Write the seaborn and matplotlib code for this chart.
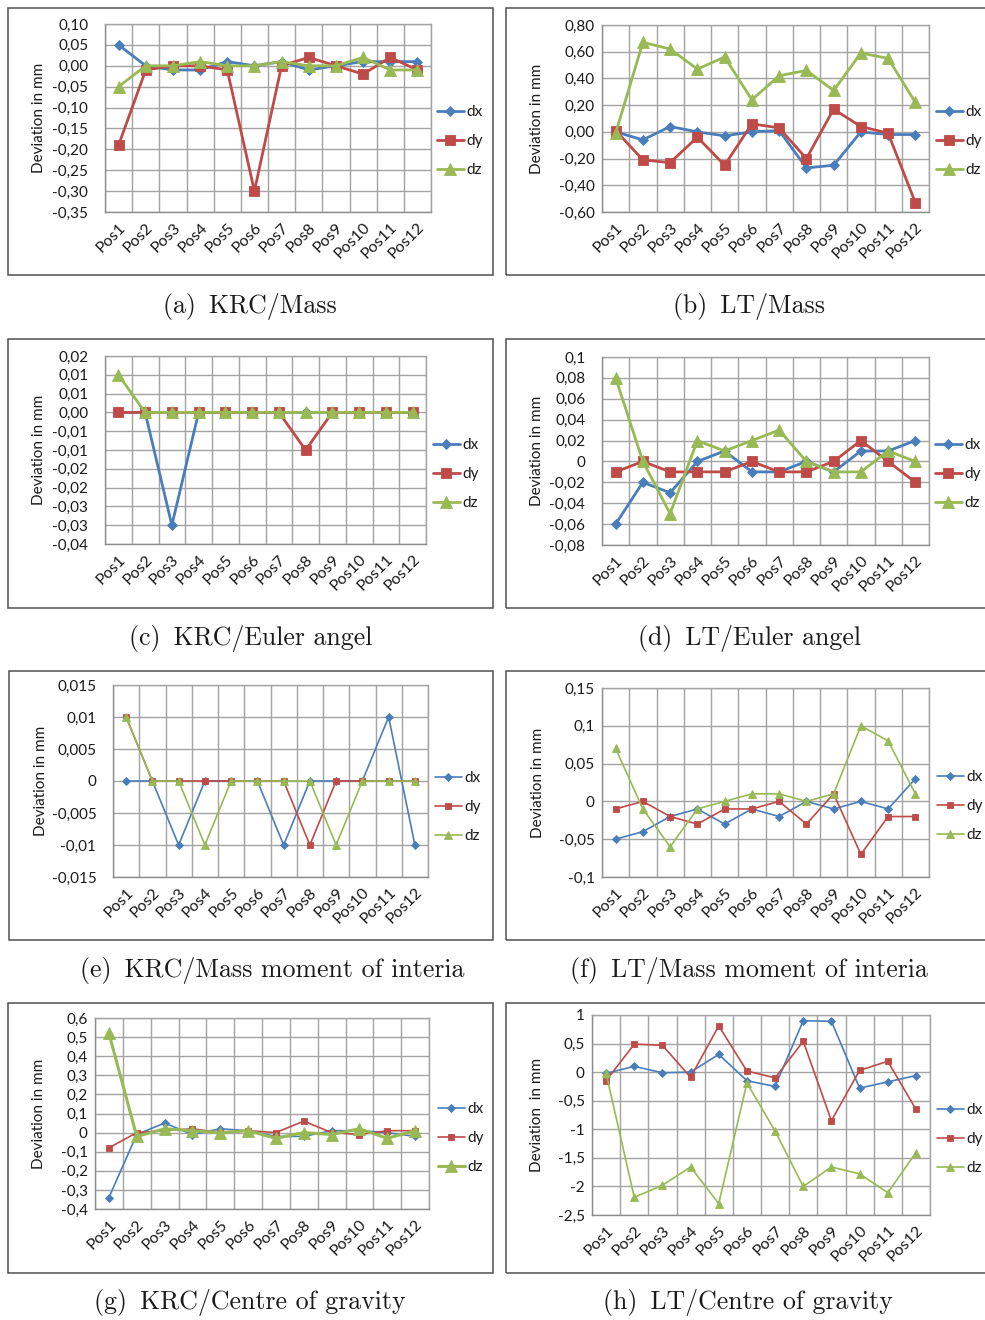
import matplotlib
matplotlib.use("Agg")
import matplotlib.pyplot as plt
import matplotlib.transforms as mtransforms
import numpy as np
import seaborn as sns
from matplotlib.patches import Rectangle
from decimal import Decimal, ROUND_HALF_UP

# ---------------------------------------------------------------- data
positions = ["Pos1", "Pos2", "Pos3", "Pos4", "Pos5", "Pos6",
             "Pos7", "Pos8", "Pos9", "Pos10", "Pos11", "Pos12"]
series_names = ["dx", "dy", "dz"]

# (a) KRC / Mass
krc_mass_dx = [0.05, 0.00, -0.01, -0.01, 0.01, 0.00, 0.01, -0.01, 0.00, 0.01, 0.01, 0.01]
krc_mass_dy = [-0.19, -0.01, 0.00, 0.00, -0.01, -0.30, 0.00, 0.02, 0.00, -0.02, 0.02, -0.01]
krc_mass_dz = [-0.05, 0.00, 0.00, 0.01, 0.00, 0.00, 0.01, 0.00, 0.00, 0.02, -0.01, -0.01]

# (b) LT / Mass
lt_mass_dx = [0.00, -0.06, 0.04, 0.00, -0.03, 0.00, 0.01, -0.27, -0.25, 0.00, -0.02, -0.02]
lt_mass_dy = [0.01, -0.21, -0.23, -0.04, -0.25, 0.06, 0.03, -0.20, 0.17, 0.04, -0.01, -0.53]
lt_mass_dz = [-0.01, 0.67, 0.62, 0.47, 0.56, 0.24, 0.42, 0.46, 0.31, 0.59, 0.55, 0.22]

# (c) KRC / Euler angel
krc_euler_dx = [0.00, 0.00, -0.03, 0.00, 0.00, 0.00, 0.00, 0.00, 0.00, 0.00, 0.00, 0.00]
krc_euler_dy = [0.00, 0.00, 0.00, 0.00, 0.00, 0.00, 0.00, -0.01, 0.00, 0.00, 0.00, 0.00]
krc_euler_dz = [0.01, 0.00, 0.00, 0.00, 0.00, 0.00, 0.00, 0.00, 0.00, 0.00, 0.00, 0.00]

# (d) LT / Euler angel
lt_euler_dx = [-0.06, -0.02, -0.03, 0.00, 0.01, -0.01, -0.01, 0.00, -0.01, 0.01, 0.01, 0.02]
lt_euler_dy = [-0.01, 0.00, -0.01, -0.01, -0.01, 0.00, -0.01, -0.01, 0.00, 0.02, 0.00, -0.02]
lt_euler_dz = [0.08, 0.00, -0.05, 0.02, 0.01, 0.02, 0.03, 0.00, -0.01, -0.01, 0.01, 0.00]

# (e) KRC / Mass moment of interia
krc_inertia_dx = [0.00, 0.00, -0.01, 0.00, 0.00, 0.00, -0.01, 0.00, 0.00, 0.00, 0.01, -0.01]
krc_inertia_dy = [0.01, 0.00, 0.00, 0.00, 0.00, 0.00, 0.00, -0.01, 0.00, 0.00, 0.00, 0.00]
krc_inertia_dz = [0.01, 0.00, 0.00, -0.01, 0.00, 0.00, 0.00, 0.00, -0.01, 0.00, 0.00, 0.00]

# (f) LT / Mass moment of interia
lt_inertia_dx = [-0.05, -0.04, -0.02, -0.01, -0.03, -0.01, -0.02, 0.00, -0.01, 0.00, -0.01, 0.03]
lt_inertia_dy = [-0.01, 0.00, -0.02, -0.03, -0.01, -0.01, 0.00, -0.03, 0.01, -0.07, -0.02, -0.02]
lt_inertia_dz = [0.07, -0.01, -0.06, -0.01, 0.00, 0.01, 0.01, 0.00, 0.01, 0.10, 0.08, 0.01]

# (g) KRC / Centre of gravity
krc_cog_dx = [-0.34, -0.01, 0.05, -0.01, 0.02, 0.01, -0.02, -0.02, 0.01, 0.01, 0.00, -0.02]
krc_cog_dy = [-0.08, 0.00, 0.01, 0.02, 0.00, 0.01, 0.00, 0.06, 0.00, -0.01, 0.01, 0.01]
krc_cog_dz = [0.52, -0.02, 0.02, 0.01, 0.00, 0.01, -0.03, 0.00, -0.01, 0.02, -0.03, 0.01]

# (h) LT / Centre of gravity
lt_cog_dx = [-0.02, 0.10, -0.01, 0.00, 0.31, -0.15, -0.25, 0.90, 0.89, -0.28, -0.17, -0.06]
lt_cog_dy = [-0.15, 0.49, 0.47, -0.09, 0.81, 0.02, -0.10, 0.54, -0.85, 0.03, 0.19, -0.65]
lt_cog_dz = [-0.02, -2.19, -1.98, -1.66, -2.30, -0.19, -1.03, -2.00, -1.66, -1.78, -2.11, -1.41]

caption_tags = ["(a)", "(b)", "(c)", "(d)", "(e)", "(f)", "(g)", "(h)"]
caption_texts = ["KRC/Mass", "LT/Mass",
                 "KRC/Euler angel", "LT/Euler angel",
                 "KRC/Mass moment of interia", "LT/Mass moment of interia",
                 "KRC/Centre of gravity", "LT/Centre of gravity"]

# value axis ranges: (min, max, major step)
y_ranges = [(-0.35, 0.10, 0.05), (-0.60, 0.80, 0.20),
            (-0.035, 0.015, 0.005), (-0.08, 0.10, 0.02),
            (-0.015, 0.015, 0.005), (-0.10, 0.15, 0.05),
            (-0.40, 0.60, 0.10), (-2.5, 1.0, 0.5)]
y_formats = ["fixed2", "fixed2", "fixed2", "general",
             "general", "general", "general", "general"]
y_labels = ["Deviation in mm"] * 7 + ["Deviation  in mm"]

# ---------------------------------------------------------------- style
BLUE, RED, GREEN = "#4A7EBB", "#BE4B48", "#98B954"
colors = {"dx": BLUE, "dy": RED, "dz": GREEN}
markers = {"dx": "D", "dy": "s", "dz": "^"}
THICK = {"dx": (2.0, 5.5), "dy": (2.0, 7.0), "dz": (2.0, 8.0)}
THIN = {"dx": (1.2, 3.8), "dy": (1.2, 4.6), "dz": (1.2, 6.0)}
MIXED = {"dx": (1.2, 3.8), "dy": (1.2, 4.6), "dz": (2.2, 8.0)}

sns.set_theme(style="white")
plt.rcParams["font.family"] = ["Lato", "DejaVu Sans"]
plt.rcParams["text.color"] = "#1a1a1a"

W, H = 985, 1320
fig = plt.figure(figsize=(W / 100, H / 100), dpi=100)


def fx(x):
    return x / W


def fy(y):
    return 1 - y / H


def fmt_value(v, kind):
    v = round(float(v), 6)
    if kind == "fixed2":
        d = Decimal(str(v)).quantize(Decimal("0.01"), rounding=ROUND_HALF_UP)
        s = f"{d:.2f}"
        if s == "-0.00":
            s = "0.00"
    else:
        if abs(v) < 1e-9:
            return "0"
        s = f"{v:.6f}".rstrip("0").rstrip(".")
    return s.replace(".", ",")


panels = [
    dict(data=(krc_mass_dx, krc_mass_dy, krc_mass_dz), style=THICK, ticks=False,
         frame=(8, 8, 493, 275), axes=(105, 24, 431, 212), ylab_x=46,
         legend=(437, 141), caption=(250, 306)),
    dict(data=(lt_mass_dx, lt_mass_dy, lt_mass_dz), style=THICK, ticks=True,
         frame=(506, 8, 995, 275), axes=(602, 25, 929, 212), ylab_x=544,
         legend=(936, 141), caption=(749, 306)),
    dict(data=(krc_euler_dx, krc_euler_dy, krc_euler_dz), style=THICK, ticks=False,
         frame=(8, 339, 493, 608), axes=(105, 356, 426, 544), ylab_x=46,
         legend=(433, 474), caption=(251, 639)),
    dict(data=(lt_euler_dx, lt_euler_dy, lt_euler_dz), style=THICK, ticks=False,
         frame=(506, 339, 995, 608), axes=(602, 357, 929, 545), ylab_x=544,
         legend=(935, 474), caption=(749, 639)),
    dict(data=(krc_inertia_dx, krc_inertia_dy, krc_inertia_dz), style=THIN, ticks=False,
         frame=(9, 671, 493, 940), axes=(113, 685, 428, 877), ylab_x=48,
         legend=(435, 807), caption=(272, 971)),
    dict(data=(lt_inertia_dx, lt_inertia_dy, lt_inertia_dz), style=THIN, ticks=True,
         frame=(506, 671, 995, 940), axes=(602, 688, 929, 877), ylab_x=545,
         legend=(937, 806), caption=(749, 971)),
    dict(data=(krc_cog_dx, krc_cog_dy, krc_cog_dz), style=MIXED, ticks=True,
         frame=(8, 1003, 493, 1273), axes=(95, 1018, 429, 1209), ylab_x=46,
         legend=(438, 1138), caption=(250, 1303)),
    dict(data=(lt_cog_dx, lt_cog_dy, lt_cog_dz), style=THIN, ticks=True,
         frame=(506, 1003, 995, 1273), axes=(592, 1015, 930, 1215), ylab_x=544,
         legend=(937, 1139), caption=(748, 1303)),
]

x_index = np.arange(len(positions))
GRID = "#a3a3a3"
AXIS = "#8c8c8c"
label_shift = mtransforms.ScaledTranslation(4 / 100, -1 / 100, fig.dpi_scale_trans)

for i, p in enumerate(panels):
    # frame around each chart
    l, t, r, b = p["frame"]
    fig.patches.append(Rectangle((fx(l), fy(b)), (r - l) / W, (b - t) / H,
                                 transform=fig.transFigure, fill=False,
                                 edgecolor="#505050", linewidth=1.1, zorder=0))

    l, t, r, b = p["axes"]
    ax = fig.add_axes([fx(l), fy(b), (r - l) / W, (b - t) / H])

    for name, vals in zip(series_names, p["data"]):
        lw, ms = p["style"][name]
        sns.lineplot(x=x_index, y=vals, ax=ax, color=colors[name],
                     marker=markers[name], markersize=ms, linewidth=lw,
                     markeredgecolor=colors[name], markeredgewidth=0.6,
                     label=name, errorbar=None, sort=False, zorder=3)

    ymin, ymax, step = y_ranges[i]
    yt = np.arange(ymin, ymax + step / 2, step)
    ax.set_ylim(ymin, ymax)
    ax.set_yticks(yt)
    ax.set_yticklabels([fmt_value(v, y_formats[i]) for v in yt])
    ax.set_xlim(-0.5, len(positions) - 0.5)
    ax.set_xticks(x_index)
    ax.set_xticklabels(positions, rotation=45, ha="right", va="top",
                       rotation_mode="anchor", fontsize=11.5)
    for lab in ax.get_xticklabels():
        lab.set_transform(lab.get_transform() + label_shift)
    ax.set_xticks(np.arange(-0.5, len(positions)), minor=True)
    ax.grid(which="minor", axis="x", color=GRID, linewidth=1.0)
    ax.grid(which="major", axis="y", color=GRID, linewidth=1.0)
    ax.grid(which="major", axis="x", visible=False)
    ax.set_axisbelow(True)
    for sp in ax.spines.values():
        sp.set_color(GRID)
        sp.set_linewidth(1.0)
    ax.spines["left"].set_color(AXIS)
    ax.spines["bottom"].set_color(AXIS)
    ax.tick_params(axis="both", which="both", length=0, colors="#1a1a1a")
    ax.tick_params(axis="y", labelsize=11)
    ax.tick_params(axis="x", pad=6)
    if p["ticks"]:
        ax.tick_params(axis="y", which="major", direction="out", length=3.6,
                       width=1.0, color=AXIS, pad=1.6)
    else:
        ax.tick_params(axis="y", pad=12)
    ax.set_xlabel("")
    ax.set_ylabel(y_labels[i], fontsize=11, color="#1a1a1a")
    ax.yaxis.set_label_coords(fx(p["ylab_x"]), fy((t + b) / 2),
                              transform=fig.transFigure)

    lx, ly = p["legend"]
    ax.legend(loc="center left", bbox_to_anchor=(fx(lx), fy(ly)),
              bbox_transform=fig.transFigure, frameon=False, fontsize=11,
              handlelength=1.75, handletextpad=0.15, labelspacing=0.98,
              borderpad=0, borderaxespad=0)

    cx, cy = p["caption"]
    fig.text(fx(cx), fy(cy), caption_tags[i] + "\u2002" + caption_texts[i],
             ha="center", va="center", family=["cmr10", "DejaVu Serif"],
             fontsize=18.6, color="#1a1a1a")

fig.savefig("out.png", dpi=100, facecolor="white")
